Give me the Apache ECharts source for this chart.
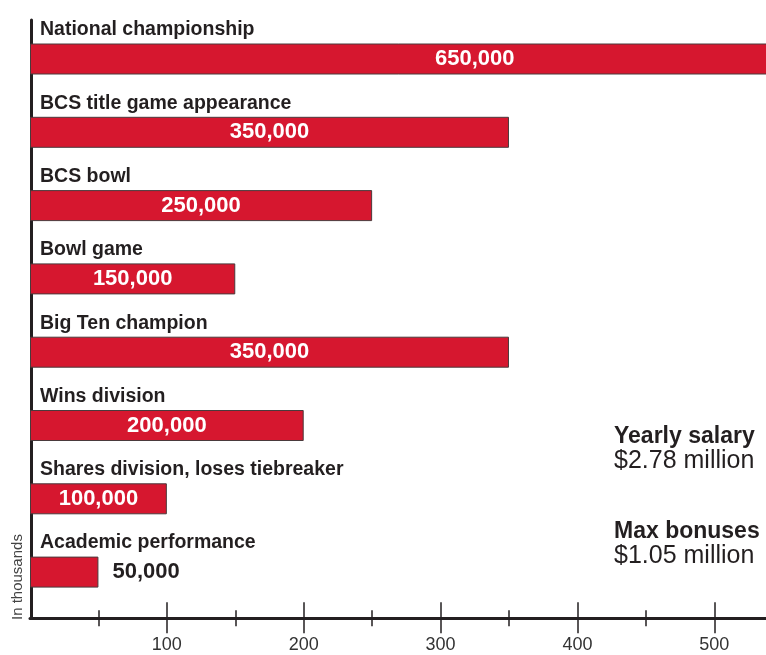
<!DOCTYPE html>
<html><head><meta charset="utf-8">
<script src="https://cdn.jsdelivr.net/npm/echarts@6/dist/echarts.min.js"></script>
<style>html,body{margin:0;padding:0;background:#fff}#c{width:766px;height:655px}</style>
</head><body><div id="c"></div>
<script>
// Bonus categories, top to bottom
const categories = [
  'National championship',
  'BCS title game appearance',
  'BCS bowl',
  'Bowl game',
  'Big Ten champion',
  'Wins division',
  'Shares division, loses tiebreaker',
  'Academic performance'
];
// Bonus amounts, in thousands of dollars
const bonusValues = [650, 350, 250, 150, 350, 200, 100, 50];
// x axis (thousands)
const axisMin = 0;
const axisMax = 540;
const tickStep = 100;
const majorTicks = [100, 200, 300, 400, 500];
const minorTicks = [50, 150, 250, 350, 450];
const axisTitle = 'In thousands';
const notes = [
  ['Yearly salary', '$2.78 million'],
  ['Max bonuses', '$1.05 million']
];

const FONT = '"Liberation Sans", Arial, sans-serif';
const INK = '#231f20';
const RED = '#d6172f';

const chart = echarts.init(document.getElementById('c'), null, {renderer: 'canvas'});

const fmt = v => (v * 1000).toLocaleString('en-US');

const barData = bonusValues.map((v, i) => {
  const d = {value: v};
  if (v < 80) {
    d.label = {position: 'right', distance: 14, color: INK};
  }
  return d;
});

const xBase = {
  type: 'value', gridIndex: 0, min: axisMin, max: axisMax, interval: tickStep,
  position: 'bottom', offset: 9.5,
  splitLine: {show: false}
};

chart.setOption({
  animation: false,
  backgroundColor: '#fff',
  grid: [
    {left: 30, right: -3, top: 22.35, height: 586.4, outerBoundsMode: 'none', containLabel: false},
    {left: 31.5, right: 0, top: 20, height: 598.5, outerBoundsMode: 'none', containLabel: false}
  ],
  xAxis: [
    Object.assign({}, xBase, {
      axisLine: {show: true, lineStyle: {color: INK, width: 3}},
      axisTick: {show: true, inside: true, length: 16, customValues: majorTicks, lineStyle: {color: INK, width: 1.5}},
      axisLabel: {show: false}
    }),
    Object.assign({}, xBase, {
      axisLine: {show: false},
      axisTick: {show: true, inside: false, length: 15, customValues: majorTicks, lineStyle: {color: INK, width: 1.5}},
      axisLabel: {
        show: true, margin: 18, color: '#333', fontSize: 18, fontFamily: FONT,
        customValues: majorTicks,
        formatter: v => String(v)
      }
    }),
    {type: 'value', gridIndex: 1, show: false, min: 0, max: 1},
    Object.assign({}, xBase, {
      axisLine: {show: false},
      axisTick: {show: true, inside: true, length: 8, customValues: minorTicks, lineStyle: {color: INK, width: 1.5}},
      axisLabel: {show: false}
    }),
    Object.assign({}, xBase, {
      axisLine: {show: false},
      axisTick: {show: true, inside: false, length: 8, customValues: minorTicks, lineStyle: {color: INK, width: 1.5}},
      axisLabel: {show: false}
    })
  ],
  yAxis: [
    {
      type: 'category', gridIndex: 0, data: categories, inverse: true,
      axisLine: {show: false}, axisTick: {show: false}, splitLine: {show: false},
      axisLabel: {
        show: true, inside: true, interval: 0, margin: 10, align: 'left',
        verticalAlign: 'bottom', lineHeight: 58,
        color: INK, fontSize: 19.5, fontWeight: 'bold', fontFamily: FONT
      }
    },
    {
      type: 'value', gridIndex: 1, min: 0, max: 1,
      axisLine: {show: true, lineStyle: {color: INK, width: 3}},
      axisTick: {show: false}, axisLabel: {show: false}, splitLine: {show: false}
    }
  ],
  series: [{
    type: 'bar', xAxisIndex: 0, yAxisIndex: 0,
    data: barData, barWidth: 31, clip: false,
    itemStyle: {color: RED, borderColor: '#4a3a3c', borderWidth: 1},
    label: {
      show: true, position: 'inside', color: '#fff',
      fontSize: 22, fontWeight: 'bold', fontFamily: FONT,
      formatter: p => fmt(p.value)
    }
  }],
  graphic: [
    {type: 'text', x: 17.5, y: 620, rotation: Math.PI / 2,
     style: {text: axisTitle, fontSize: 15, fontFamily: FONT, fill: '#444', align: 'left', verticalAlign: 'middle'}},
    {type: 'text', x: 614, y: 437,
     style: {text: notes[0][0], fontSize: 23, fontWeight: 'bold', fontFamily: FONT, fill: INK, align: 'left', verticalAlign: 'middle'}},
    {type: 'text', x: 614, y: 461,
     style: {text: notes[0][1], fontSize: 25, fontFamily: FONT, fill: INK, align: 'left', verticalAlign: 'middle'}},
    {type: 'text', x: 614, y: 532,
     style: {text: notes[1][0], fontSize: 23, fontWeight: 'bold', fontFamily: FONT, fill: INK, align: 'left', verticalAlign: 'middle'}},
    {type: 'text', x: 614, y: 556,
     style: {text: notes[1][1], fontSize: 25, fontFamily: FONT, fill: INK, align: 'left', verticalAlign: 'middle'}}
  ]
});
</script>
</body></html>
